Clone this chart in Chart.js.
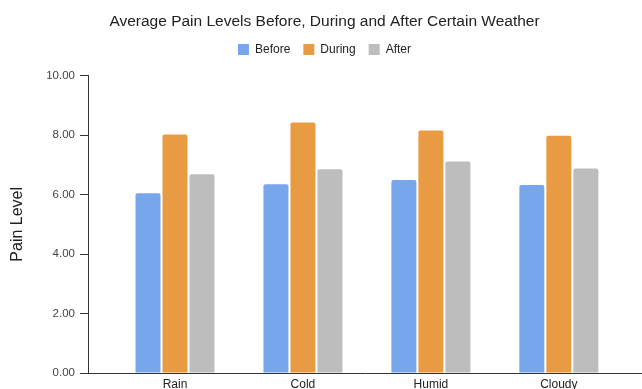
<!DOCTYPE html>
<html>
<head>
<meta charset="utf-8">
<script src="https://cdn.jsdelivr.net/npm/chart.js@4/dist/chart.umd.min.js"></script>
<style>
  html, body { margin: 0; padding: 0; background: #ffffff; }
  canvas { display: block; }
</style>
</head>
<body>
<canvas id="c" width="642" height="389"></canvas>
<script>
const categories = ["Rain", "Cold", "Humid", "Cloudy"];
const before = [6.04, 6.35, 6.49, 6.32];
const during = [8.02, 8.42, 8.15, 7.98];
const after = [6.68, 6.85, 7.11, 6.88];
const yTicks = [0, 2, 4, 6, 8, 10];
const titleText = "Average Pain Levels Before, During and After Certain Weather";
const yTitle = "Pain Level";

const FONT = '"Liberation Sans", Arial, sans-serif';
Chart.defaults.font.family = FONT;

const legendSpacer = {
  id: 'legendSpacer',
  beforeInit(chart) {
    const orig = chart.legend.fit;
    chart.legend.fit = function () {
      orig.bind(chart.legend)();
      this.height += 10;
    };
  }
};

new Chart(document.getElementById('c'), {
  type: 'bar',
  data: {
    labels: categories,
    datasets: [
      { label: 'Before', data: before, backgroundColor: '#78a6eb' },
      { label: 'During', data: during, backgroundColor: '#e99b43' },
      { label: 'After', data: after, backgroundColor: '#bdbdbd' }
    ]
  },
  plugins: [legendSpacer],
  options: {
    responsive: false,
    animation: false,
    layout: { padding: { left: 7, right: 0, top: 0, bottom: 0 } },
    datasets: {
      bar: {
        categoryPercentage: 0.633,
        barPercentage: 0.926,
        borderWidth: 0,
        borderRadius: { topLeft: 2, topRight: 2, bottomLeft: 0, bottomRight: 0 },
        borderSkipped: 'start'
      }
    },
    plugins: {
      title: {
        display: true,
        text: titleText,
        color: '#222222',
        font: { size: 15.5, weight: 'normal', family: FONT },
        padding: { top: 12, bottom: 0 }
      },
      legend: {
        display: true,
        position: 'top',
        labels: {
          boxWidth: 11,
          boxHeight: 11,
          padding: 13,
          color: '#222222',
          font: { size: 12, family: FONT }
        }
      },
      tooltip: { enabled: false }
    },
    scales: {
      x: {
        offset: true,
        grid: { display: false, drawTicks: false },
        border: { display: true, color: '#333333', width: 1 },
        ticks: { color: '#222222', font: { size: 12, family: FONT }, padding: 4, maxRotation: 0 },
        afterBuildTicks: (s) => { s._startValue -= 0.18; s._valueRange += 0.33; },
        afterFit: (s) => { s.height = 16; }
      },
      y: {
        min: 0,
        max: 10,
        afterBuildTicks: (s) => { s.ticks = yTicks.map(v => ({ value: v })); },
        grid: { display: true, drawOnChartArea: false, drawTicks: true, tickLength: 8, color: '#333333' },
        border: { display: true, color: '#333333', width: 1 },
        ticks: {
          color: '#444444',
          font: { size: 11.5, family: FONT },
          padding: 5,
          callback: (v) => Number(v).toFixed(2)
        },
        title: {
          display: true,
          text: yTitle,
          color: '#222222',
          font: { size: 16, family: FONT },
          padding: { top: 1, bottom: 0 }
        },
        afterFit: (s) => { s.width = 81; }
      }
    }
  }
});
</script>
</body>
</html>
